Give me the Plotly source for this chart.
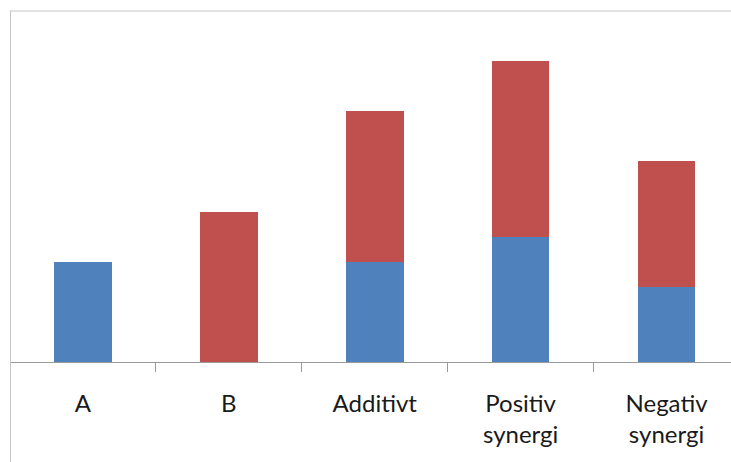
import plotly.graph_objects as go

categories = ["A", "B", "Additivt", "Positiv<br>synergi", "Negativ<br>synergi"]
blue_values = [2.0, 0.0, 2.0, 2.5, 1.5]
red_values = [0.0, 3.0, 3.0, 3.5, 2.5]

fig = go.Figure()
fig.add_trace(go.Bar(x=categories, y=blue_values, marker=dict(color="#4F81BD", line=dict(width=0)), name="Serie 1"))
fig.add_trace(go.Bar(x=categories, y=red_values, marker=dict(color="#C0504D", line=dict(width=0)), name="Serie 2"))

fig.update_layout(
    barmode="stack",
    bargap=0.605,
    width=731,
    height=462,
    margin=dict(l=10, r=0, t=11, b=100),
    paper_bgcolor="white",
    plot_bgcolor="white",
    showlegend=False,
    font=dict(family="Lato, 'Open Sans', sans-serif", size=24, color="#1a1a1a"),
)
fig.update_xaxes(
    type="category",
    range=[-0.5, 4.442],
    showline=True,
    linecolor="#9A9A9A",
    linewidth=1,
    ticks="outside",
    tickson="boundaries",
    ticklen=9,
    tickcolor="#9A9A9A",
    tickwidth=1,
    ticklabelstandoff=20,
    showgrid=False,
    zeroline=False,
)
fig.update_yaxes(
    range=[0, 7],
    visible=False,
    showgrid=False,
    zeroline=False,
)
# chart border (top and left edges visible in the crop)
fig.add_shape(type="line", xref="paper", yref="paper", x0=0, x1=1.02, y0=1, y1=1,
              line=dict(color="#C4C4C4", width=1))
fig.add_shape(type="line", xref="paper", yref="paper", x0=0.0007, x1=0.0007, y0=1, y1=-0.3,
              line=dict(color="#C4C4C4", width=1))

fig.write_html("out.html")
